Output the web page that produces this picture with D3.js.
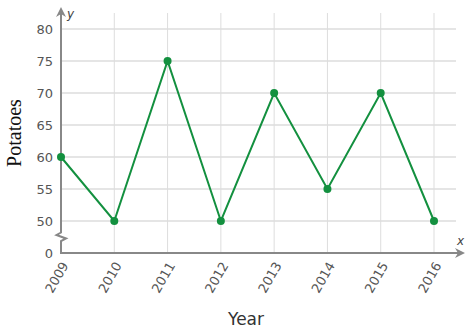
<!DOCTYPE html>
<html>
<head>
<meta charset="utf-8">
<script src="https://cdn.jsdelivr.net/npm/d3@7"></script>
<style>
  body { margin: 0; background: #fff; }
  svg { display: block; font-family: "DejaVu Sans", Verdana, sans-serif; }
</style>
</head>
<body>
<div id="chart"></div>
<script>
// Data.
const years = [2009, 2010, 2011, 2012, 2013, 2014, 2015, 2016]
const potatoes = [60, 50, 75, 50, 70, 55, 70, 50]
const yTicks = [50, 55, 60, 65, 70, 75, 80]

const width = 467, height = 334
const axisColor = '#888', gridColor = '#ddd', lineColor = '#13903f'

const svg = d3.select('#chart').append('svg')
  .attr('width', width)
  .attr('height', height)

// Scales. The y axis is broken: 45 sits at the origin and is labelled 0.
const x = d3.scalePoint().domain(years).range([61, 434])
const y = d3.scaleLinear().domain([45, 80]).range([253, 29])

// Grid.
svg.append('g')
  .selectAll('line')
  .data(years.slice(1))
  .join('line')
    .attr('x1', d => x(d)).attr('x2', d => x(d))
    .attr('y1', 13).attr('y2', 253)
    .attr('stroke', gridColor).attr('stroke-width', 1)

svg.append('g')
  .selectAll('line')
  .data(yTicks)
  .join('line')
    .attr('x1', 61).attr('x2', 456)
    .attr('y1', d => y(d)).attr('y2', d => y(d))
    .attr('stroke', gridColor).attr('stroke-width', 1.5)

// Y tick labels.
svg.append('g')
  .selectAll('text')
  .data(yTicks.concat([45]))
  .join('text')
    .attr('x', 53)
    .attr('y', d => y(d))
    .attr('dy', '0.35em')
    .attr('text-anchor', 'end')
    .attr('fill', '#555')
    .style('font-size', '13px')
    .text(d => d === 45 ? '0' : d)

// X tick labels, rotated.
svg.append('g')
  .selectAll('text')
  .data(years)
  .join('text')
    .attr('transform', d => 'translate(' + (x(d) + 4) + ',263) rotate(-60)')
    .attr('text-anchor', 'end')
    .attr('dy', '0.35em')
    .attr('fill', '#555')
    .style('font-size', '13px')
    .text(d => d)

// Axes with arrows and the break mark.
svg.append('path')
  .attr('d', 'M61,13 L61,232.5 L56.5,235 L66,238.5 L61,241 L61,253 L458,253')
  .attr('fill', 'none')
  .attr('stroke', axisColor)
  .attr('stroke-width', 2)

svg.append('path')
  .attr('d', 'M61,7 L56,17 L61,14 L66,17 Z')
  .attr('fill', axisColor)
svg.append('path')
  .attr('d', 'M465,253 L455,248 L458,253 L455,258 Z')
  .attr('fill', axisColor)

svg.append('text')
  .attr('x', 67).attr('y', 18)
  .attr('fill', '#444')
  .style('font-size', '12px').style('font-style', 'italic')
  .text('y')
svg.append('text')
  .attr('x', 457).attr('y', 245)
  .attr('fill', '#444')
  .style('font-size', '12px').style('font-style', 'italic')
  .text('x')

// Axis titles.
svg.append('text')
  .attr('transform', 'translate(21,133) rotate(-90)')
  .attr('text-anchor', 'middle')
  .attr('fill', '#111')
  .style('font-family', '"Liberation Serif", "Times New Roman", serif')
  .style('font-size', '20px')
  .text('Potatoes')

svg.append('text')
  .attr('x', 246).attr('y', 325)
  .attr('text-anchor', 'middle')
  .attr('fill', '#333')
  .style('font-size', '17px')
  .text('Year')

// Series.
const line = d3.line()
  .x((d, i) => x(years[i]))
  .y(d => y(d))

svg.append('path')
  .datum(potatoes)
  .attr('d', line)
  .attr('fill', 'none')
  .attr('stroke', lineColor)
  .attr('stroke-width', 2)

svg.append('g')
  .selectAll('circle')
  .data(potatoes)
  .join('circle')
    .attr('cx', (d, i) => x(years[i]))
    .attr('cy', d => y(d))
    .attr('r', 4)
    .attr('fill', lineColor)
</script>
</body>
</html>
